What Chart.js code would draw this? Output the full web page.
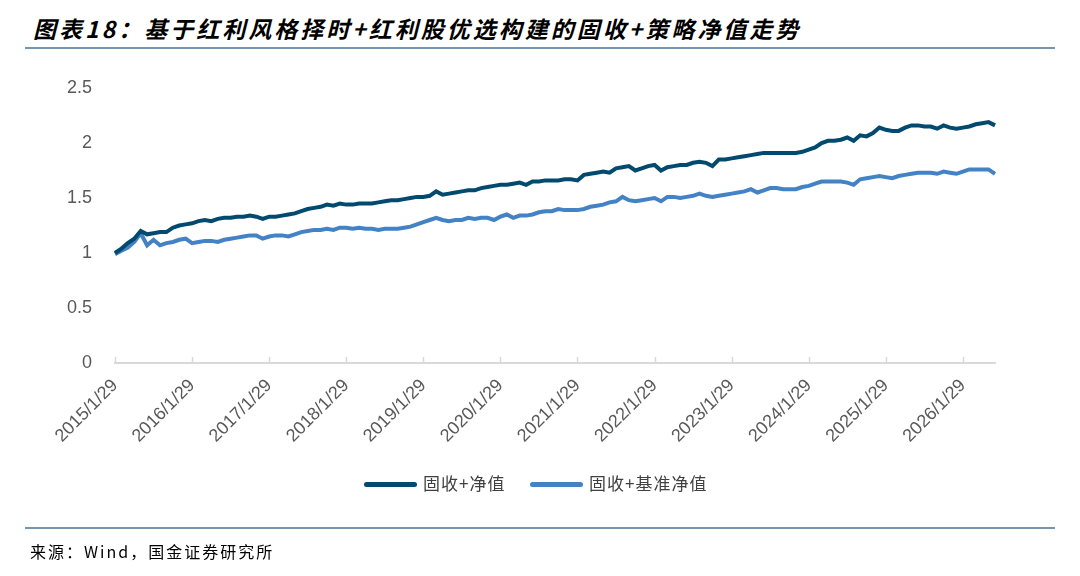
<!DOCTYPE html>
<html>
<head>
<meta charset="utf-8">
<script src="https://cdn.jsdelivr.net/npm/chart.js"></script>
<style>
    body { margin: 0; background: #fff; }
    #wrap { position: relative; width: 1080px; height: 576px; overflow: hidden; }
    #chart { position: absolute; left: 0; top: 0; }
    .title { position: absolute; left: 33px; top: 11px; font: italic 700 23px "Noto Sans CJK SC"; letter-spacing: 3px; color: #000; white-space: nowrap; }
    .rule { position: absolute; left: 25px; width: 1030px; height: 2px; background: #7596ae; }
    .legend { position: absolute; top: 470px; font: 17px "Noto Sans CJK SC"; letter-spacing: 1px; color: #404040; white-space: nowrap; }
    .legend i { display: inline-block; width: 53px; height: 5px; border-radius: 3px; vertical-align: middle; margin-right: 6px; position: relative; top: -1px; }
    .source { position: absolute; left: 30px; top: 539px; font: 16px "Noto Sans CJK SC"; letter-spacing: 2px; color: #000; white-space: nowrap; }
</style>
</head>
<body>
<div id="wrap">
    <div class="title">图表18：基于红利风格择时+红利股优选构建的固收+策略净值走势</div>
    <div class="rule" style="top:47px"></div>
    <canvas id="chart" width="1080" height="576"></canvas>
    <div class="legend" style="left:364px"><i style="background:#004a70"></i>固收+净值</div>
    <div class="legend" style="left:530px"><i style="background:#4382c5"></i>固收+基准净值</div>
    <div class="rule" style="top:527px"></div>
    <div class="source">来源：Wind，国金证券研究所</div>
</div>
<script>
// month-end style points, 2015/1/29 .. 2026/6/29
var startYear = 2015;
var yearTicks = ['2015/1/29','2016/1/29','2017/1/29','2018/1/29','2019/1/29','2020/1/29',
                 '2021/1/29','2022/1/29','2023/1/29','2024/1/29','2025/1/29','2026/1/29'];

var netValue = [
    1.00,1.04,1.09,1.13,1.20,1.17,1.18,1.19,1.19,1.23,1.25,1.26,
    1.27,1.29,1.30,1.29,1.31,1.32,1.32,1.33,1.33,1.34,1.33,1.31,
    1.33,1.33,1.34,1.35,1.36,1.38,1.40,1.41,1.42,1.44,1.43,1.45,
    1.44,1.44,1.45,1.45,1.45,1.46,1.47,1.48,1.48,1.49,1.50,1.51,
    1.51,1.52,1.56,1.53,1.54,1.55,1.56,1.57,1.57,1.59,1.60,1.61,
    1.62,1.62,1.63,1.64,1.62,1.65,1.65,1.66,1.66,1.66,1.67,1.67,
    1.66,1.71,1.72,1.73,1.74,1.73,1.77,1.78,1.79,1.75,1.77,1.79,
    1.80,1.75,1.78,1.79,1.80,1.80,1.82,1.83,1.82,1.79,1.85,1.85,
    1.86,1.87,1.88,1.89,1.90,1.91,1.91,1.91,1.91,1.91,1.91,1.92,
    1.94,1.96,2.00,2.02,2.02,2.03,2.05,2.02,2.07,2.06,2.09,2.14,
    2.12,2.11,2.11,2.14,2.16,2.16,2.15,2.15,2.13,2.16,2.14,2.13,
    2.14,2.15,2.17,2.18,2.19,2.16
];

var benchValue = [
    0.99,1.02,1.05,1.10,1.18,1.07,1.12,1.07,1.09,1.10,1.12,1.13,
    1.09,1.10,1.11,1.11,1.10,1.12,1.13,1.14,1.15,1.16,1.16,1.13,
    1.15,1.16,1.16,1.15,1.17,1.19,1.20,1.21,1.21,1.22,1.21,1.23,
    1.23,1.22,1.23,1.22,1.22,1.21,1.22,1.22,1.22,1.23,1.24,1.26,
    1.28,1.30,1.32,1.30,1.29,1.30,1.30,1.32,1.31,1.32,1.32,1.30,
    1.33,1.35,1.32,1.34,1.34,1.35,1.37,1.38,1.38,1.40,1.39,1.39,
    1.39,1.40,1.42,1.43,1.44,1.46,1.47,1.51,1.48,1.47,1.48,1.49,
    1.50,1.47,1.51,1.51,1.50,1.51,1.52,1.54,1.52,1.51,1.52,1.53,
    1.54,1.55,1.56,1.58,1.55,1.57,1.59,1.59,1.58,1.58,1.58,1.60,
    1.61,1.63,1.65,1.65,1.65,1.65,1.64,1.62,1.67,1.68,1.69,1.70,
    1.69,1.68,1.70,1.71,1.72,1.73,1.73,1.73,1.72,1.74,1.73,1.72,
    1.74,1.76,1.76,1.76,1.76,1.72
];

var labels = [];
for (var i = 0; i < netValue.length; i++) {
    labels.push((startYear + Math.floor(i / 12)) + '/' + (i % 12 + 1) + '/29');
}

// short tick marks pointing up into the plot, like the original
var innerTicks = {
    id: 'innerTicks',
    afterDraw: function(chart) {
        var x = chart.scales.x, ctx = chart.ctx;
        ctx.save();
        ctx.strokeStyle = '#d9d9d9';
        ctx.lineWidth = 1.5;
        x.ticks.forEach(function(t, k) {
            var px = Math.round(x.getPixelForTick(k)) + 0.5;
            ctx.beginPath();
            ctx.moveTo(px, x.top);
            ctx.lineTo(px, x.top - 6);
            ctx.stroke();
        });
        ctx.restore();
    }
};

var ctx = document.getElementById('chart').getContext('2d');
var nav_chart = new Chart(ctx, {
    type: 'line',
    data: {
        labels: labels,
        datasets: [{
            label: '固收+净值',
            data: netValue,
            borderColor: '#004a70',
            borderWidth: 4,
            pointRadius: 0,
            tension: 0,
        },{
            label: '固收+基准净值',
            data: benchValue,
            borderColor: '#4382c5',
            borderWidth: 4,
            pointRadius: 0,
            tension: 0,
        }]
    },
    options: {
        responsive: false,
        animation: false,
        layout: { padding: { left: 0, right: 85, top: 88, bottom: 113 } },
        plugins: { legend: { display: false }, tooltip: { enabled: false } },
        scales: {
            x: {
                type: 'category',
                offset: false,
                grid: { display: false },
                border: { display: true, color: '#d9d9d9', width: 2 },
                afterBuildTicks: function(scale) {
                    scale.ticks = scale.ticks.filter(function(t) {
                        return yearTicks.indexOf(labels[t.value]) >= 0;
                    });
                },
                afterFit: function(scale) { scale.height = 100; },
                ticks: {
                    autoSkip: false,
                    minRotation: 45,
                    maxRotation: 45,
                    padding: 4,
                    color: '#595959',
                    font: { family: 'Arial, "Liberation Sans"', size: 18 },
                    callback: function(v) { return labels[v]; }
                }
            },
            y: {
                min: 0,
                max: 2.5,
                grid: { display: false },
                border: { display: false },
                afterFit: function(scale) { scale.width = 115; },
                ticks: {
                    stepSize: 0.5,
                    padding: 15,
                    color: '#595959',
                    font: { family: 'Arial, "Liberation Sans"', size: 18 },
                    callback: function(v) { return String(v); }
                }
            }
        }
    },
    plugins: [innerTicks]
});
</script>
</body>
</html>
